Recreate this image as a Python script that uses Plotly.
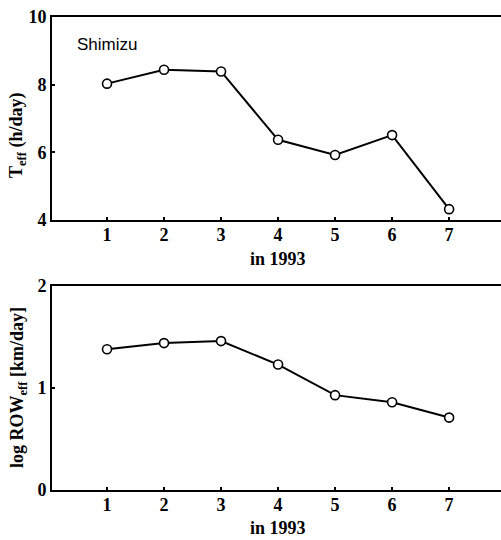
import plotly.graph_objects as go

# Monthly values at Shimizu, 1993
months = [1, 2, 3, 4, 5, 6, 7]
t_eff = [8.03, 8.44, 8.39, 6.37, 5.92, 6.51, 4.32]          # h/day
log_row_eff = [1.38, 1.44, 1.46, 1.23, 0.93, 0.86, 0.71]    # log km/day
x_ticks = [1, 2, 3, 4, 5, 6, 7]
top_ticks = [4, 6, 8, 10]
bottom_ticks = [0, 1, 2]

W, H = 501, 540
serif = "Liberation Serif, Times New Roman, serif"
tick_font = dict(family=serif, size=18, color="black", weight="bold")

fig = go.Figure()

marker = dict(symbol="circle", size=9, color="white",
              line=dict(color="black", width=1.6))
line = dict(color="black", width=2)

fig.add_trace(go.Scatter(x=months, y=t_eff, mode="lines+markers",
                         marker=marker, line=line, xaxis="x", yaxis="y",
                         showlegend=False))
fig.add_trace(go.Scatter(x=months, y=log_row_eff, mode="lines+markers",
                         marker=marker, line=line, xaxis="x2", yaxis="y2",
                         showlegend=False))

x_left = 52 / W
x_range = [0.035, 7.91]


def xaxis_cfg(anchor):
    return dict(domain=[x_left, 1], range=x_range, anchor=anchor,
                tickvals=x_ticks, ticktext=[str(v) for v in x_ticks],
                ticks="inside", ticklen=3, tickwidth=1.5, tickcolor="black",
                showline=True, linecolor="black", linewidth=2, mirror=True,
                showgrid=False, zeroline=False, tickfont=tick_font,
                ticklabelstandoff=-3, automargin=False)


def yaxis_cfg(anchor, dom, rng, ticks):
    return dict(domain=dom, range=rng, anchor=anchor,
                tickvals=ticks, ticktext=[str(v) for v in ticks],
                ticks="inside", ticklen=3, tickwidth=1.5, tickcolor="black",
                showline=True, linecolor="black", linewidth=2,
                showgrid=False, zeroline=False, tickfont=tick_font,
                ticklabelstandoff=0, automargin=False)


top_dom = [1 - 220 / H, 1 - 17 / H]
bot_dom = [1 - 490 / H, 1 - 286 / H]

fig.update_layout(
    width=W, height=H,
    margin=dict(l=0, r=0, t=0, b=0, pad=0, autoexpand=False),
    paper_bgcolor="white", plot_bgcolor="white",
    xaxis=xaxis_cfg("y"),
    yaxis=yaxis_cfg("x", top_dom, [4, 10], top_ticks),
    xaxis2=xaxis_cfg("y2"),
    yaxis2=yaxis_cfg("x2", bot_dom, [0, 2], bottom_ticks),
)

title_font = dict(family=serif, size=18, color="black", weight="bold")
annotations = [
    dict(text="in 1993", x=278 / W, y=1 - 259 / H),
    dict(text="in 1993", x=278 / W, y=1 - 528 / H),
    dict(text="T<sub>eff</sub> (h/day)", x=17 / W, y=1 - 135 / H, textangle=-90),
    dict(text="log ROW<sub>eff</sub> [km/day]", x=18 / W, y=1 - 388 / H, textangle=-90),
]
for a in annotations:
    fig.add_annotation(xref="paper", yref="paper", showarrow=False,
                       xanchor="center", yanchor="middle", font=title_font, **a)

fig.add_annotation(text="Shimizu", xref="paper", yref="paper",
                   x=75 / W, y=1 - 44 / H, xanchor="left", yanchor="middle",
                   showarrow=False,
                   font=dict(family="Liberation Sans, Arial, sans-serif",
                             size=17, color="black"))

fig.write_html("out.html")
